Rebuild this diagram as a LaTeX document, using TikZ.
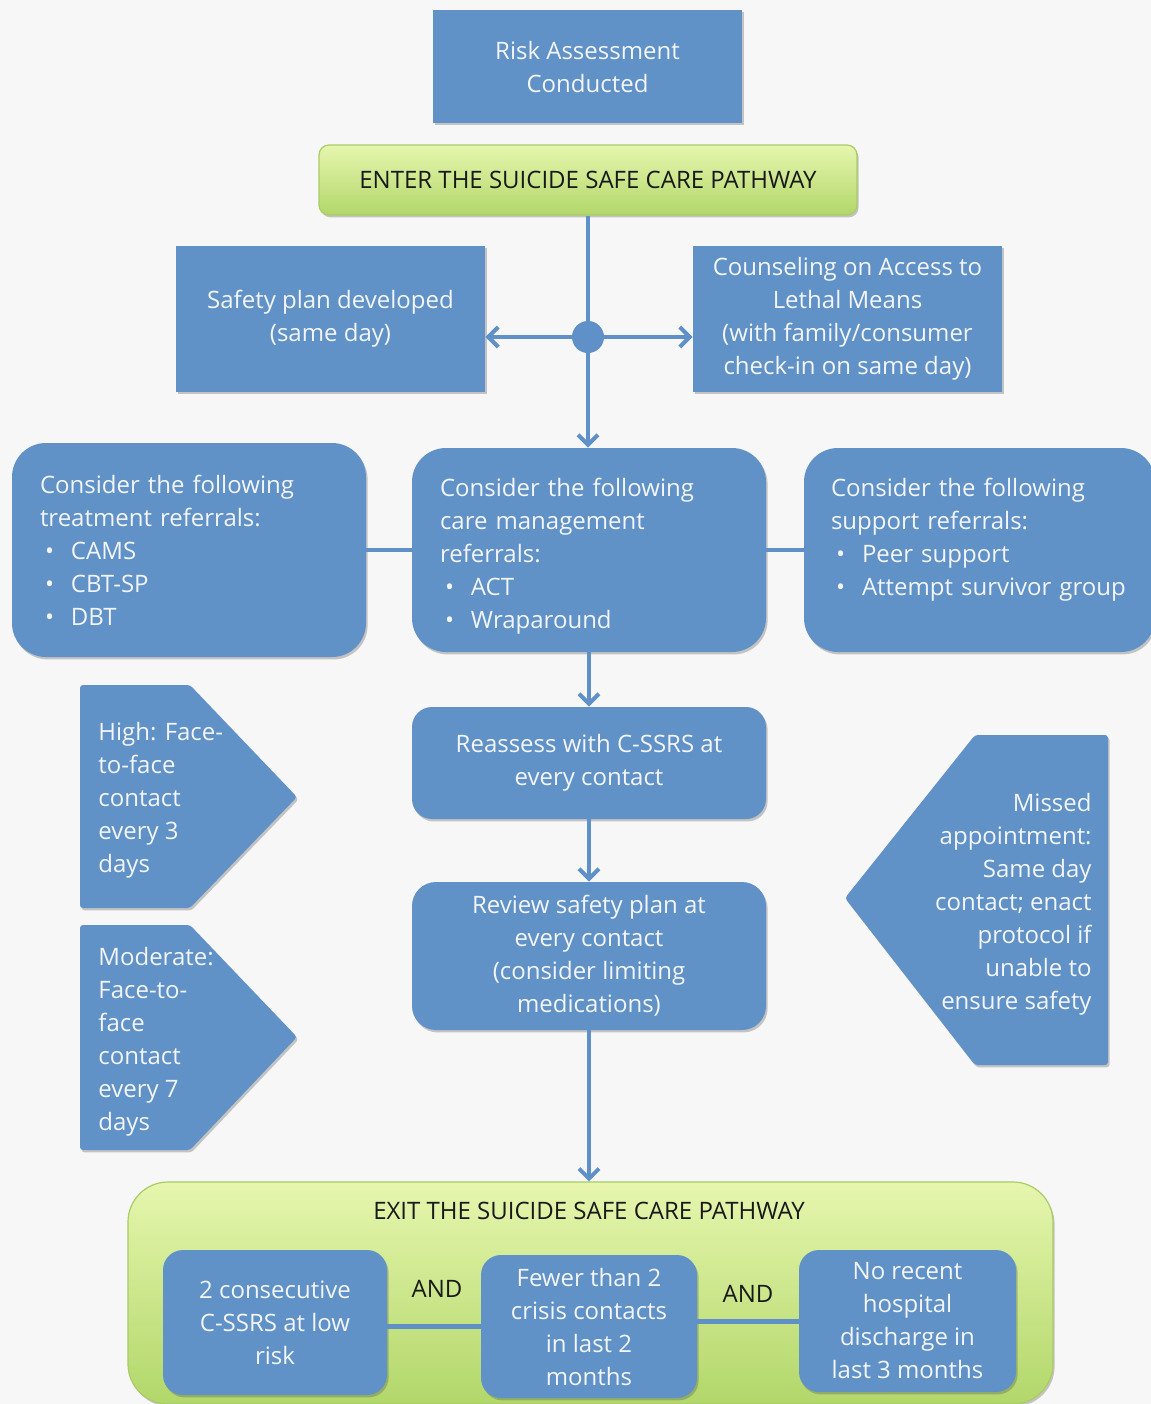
\documentclass[tikz,border=0pt]{standalone}
\usepackage{fontspec}
\setmainfont{Open Sans}
\usetikzlibrary{arrows.meta,shadows}
\definecolor{boxblue}{HTML}{6092C8}
\definecolor{lineblue}{HTML}{5F90C8}
\definecolor{txtw}{HTML}{F3F5F8}
\definecolor{bgc}{HTML}{F7F7F7}
\definecolor{gtop}{HTML}{E6F6AE}
\definecolor{gbot}{HTML}{B2D76A}
\definecolor{gborder}{HTML}{A9CC66}
\newcommand\bul[1]{\makebox[15.5pt][l]{\hspace{2.5pt}•}#1}
\begin{document}
\begin{tikzpicture}[x=0.5pt,y=-0.5pt,
 shad/.style={drop shadow={shadow xshift=0.8pt,shadow yshift=-1.2pt,opacity=0.3,fill=black!70}},
 bbox/.style={shad,fill=boxblue,text=txtw,font=\fontsize{12}{16.5}\selectfont,align=center,inner sep=0pt},
 gbox/.style={shad,top color=gtop,bottom color=gbot,draw=gborder,line width=0.6pt},
 conn/.style={draw=lineblue,line width=2pt},
 arr/.style={conn,-{Straight Barb[length=5pt,width=10pt]}},
 lbl/.style={font=\fontsize{12}{16.5}\selectfont,text=black!90,inner sep=0pt},
 wtxt/.style={font=\fontsize{12}{16.5}\selectfont,text=txtw,inner sep=0pt}]
\fill[bgc] (0,0) rectangle (1151,1404);
\useasboundingbox (0,0) rectangle (1151,1404);

% top
\node[bbox, minimum width=154.5pt, minimum height=56.5pt] (risk) at (587.5,66.5) {Risk Assessment\\Conducted};
\node[gbox, rounded corners=5pt, minimum width=269pt, minimum height=35pt, font=\fontsize{12}{16.5}\selectfont, text=black!90, inner sep=0pt] (enter) at (588,180) {ENTER THE SUICIDE SAFE CARE PATHWAY};

\node[bbox, minimum width=154.5pt, minimum height=73pt] (safety) at (330.5,319) {Safety plan developed\\(same day)};
\node[bbox, minimum width=154.5pt, minimum height=73pt] (counsel) at (847.5,319) {Counseling on Access to\\Lethal Means\\(with family/consumer\\check-in on same day)};
\node[circle, fill=lineblue, minimum size=16pt, inner sep=0pt] (junc) at (588,337) {};

\draw[conn] (enter.south) -- (junc.north);
\draw[arr] (junc.west) -- (junc.west -| safety.east);
\draw[arr] (junc.east) -- (junc.east -| counsel.west);

% referrals row
\node[bbox, rounded corners=17pt, minimum width=177pt, minimum height=107pt, text width=149pt, align=left] (treat) at (189,550)
 {Consider the following\\treatment referrals:\\\bul{CAMS}\\\bul{CBT-SP}\\\bul{DBT}};
\node[bbox, rounded corners=17pt, minimum width=177pt, minimum height=102pt] (care) at (589,550) {};
\node[wtxt, text width=149pt, align=left] (caretxt) at (589,556)
 {Consider the following\\care management\\referrals:\\\bul{ACT}\\\bul{Wraparound}};
\node[bbox, rounded corners=17pt, minimum width=175.5pt, minimum height=102pt] (support) at (979.5,550) {};
\node[wtxt, text width=148.5pt, align=left] (supporttxt) at (979.5,540)
 {Consider the following\\support referrals:\\\bul{Peer support}\\\bul{Attempt survivor group}};

\draw[arr] (junc.south) -- (junc.south |- care.north);
\draw[conn] (treat.east) -- (care.west);
\draw[conn] (care.east) -- (support.west);

% middle column
\node[bbox, rounded corners=10pt, minimum width=177pt, minimum height=56pt] (reassess) at (589,763) {Reassess with C-SSRS at\\every contact};
\node[bbox, rounded corners=12pt, minimum width=177pt, minimum height=74pt] (review) at (589,956) {Review safety plan at\\every contact\\(consider limiting\\medications)};
\draw[arr] (care.south) -- (reassess.north);
\draw[arr] (reassess.south) -- (review.north);

% side pentagons
\fill[boxblue, shad, rounded corners=1.5pt] (80,685) -- (190,685) -- (297,797) -- (190,908) -- (80,908) -- cycle;
\node[wtxt, anchor=west, align=left] (high) at (98,800) {High: Face-\\to-face\\contact\\every 3\\days};
\fill[boxblue, shad, rounded corners=1.5pt] (80,925) -- (190,925) -- (297,1037) -- (190,1150) -- (80,1150) -- cycle;
\node[wtxt, anchor=west, align=left] (moderate) at (98,1042) {Moderate:\\Face-to-\\face\\contact\\every 7\\days};
\fill[boxblue, shad, rounded corners=1.5pt] (975,735) -- (1108,735) -- (1108,1065) -- (975,1065) -- (845,898) -- cycle;
\node[wtxt, anchor=east, align=right] (missed) at (1092,904) {Missed\\appointment:\\Same day\\contact; enact\\protocol if\\unable to\\ensure safety};

% exit
\node[gbox, rounded corners=20pt, minimum width=462.5pt, minimum height=111pt, inner sep=0pt] (exit) at (590.5,1293) {};
\draw[arr] (review.south) -- (review.south |- exit.north);
\node[lbl] (exittitle) at (589,1211) {EXIT THE SUICIDE SAFE CARE PATHWAY};

\node[bbox, rounded corners=10pt, minimum width=112pt, minimum height=72.5pt] (bA) at (275,1322.5) {2 consecutive\\C-SSRS at low\\risk};
\node[bbox, rounded corners=10pt, minimum width=108pt, minimum height=71.5pt] (bB) at (589,1326.5) {Fewer than 2\\crisis contacts\\in last 2\\months};
\node[bbox, rounded corners=10pt, minimum width=108.5pt, minimum height=71pt] (bC) at (907.5,1321) {No recent\\hospital\\discharge in\\last 3 months};
\draw[conn, line width=2.5pt] (bA.east |- bB.west) -- (bB.west);
\draw[conn, line width=2.5pt] (bB.east |- bC.west) -- (bC.west);
\node[lbl] (and1) at (437,1289) {AND};
\node[lbl] (and2) at (748,1294) {AND};
\end{tikzpicture}
\end{document}
